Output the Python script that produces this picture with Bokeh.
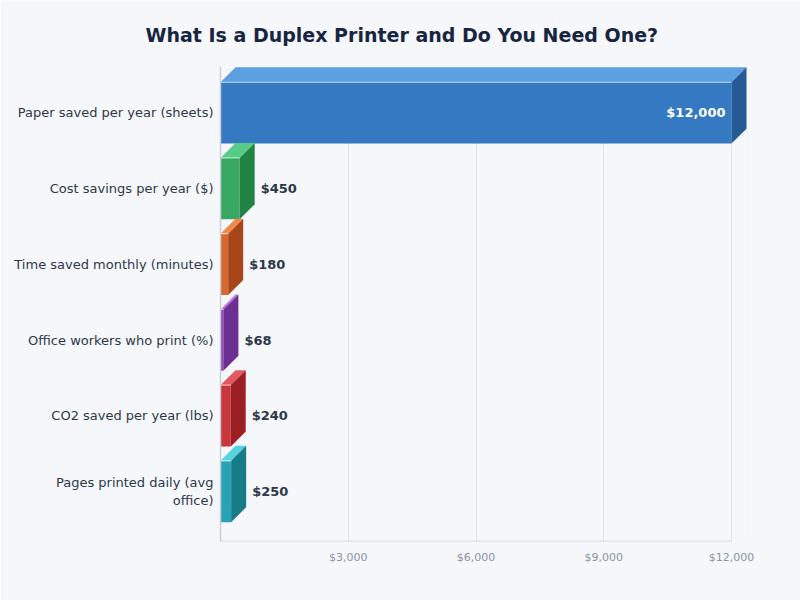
from bokeh.plotting import figure
from bokeh.models import Range1d, FixedTicker
from bokeh.embed import file_html
from bokeh.resources import INLINE
from bokeh.core.properties import value

# ---- data ----
categories = [
    "Paper saved per year (sheets)",
    "Cost savings per year ($)",
    "Time saved monthly (minutes)",
    "Office workers who print (%)",
    "CO2 saved per year (lbs)",
    "Pages printed daily (avg\noffice)",
]
values = [12000, 450, 180, 68, 240, 250]
value_labels = ["$12,000", "$450", "$180", "$68", "$240", "$250"]
front_colors = ["#3479c1", "#39a863", "#d8672e", "#9048b4", "#c8363c", "#26a3b5"]
top_colors = ["#5ca0e0", "#56cc88", "#f08a4c", "#b47ade", "#e25a60", "#55d3de"]
side_colors = ["#245b97", "#218343", "#a8461a", "#6e2f93", "#9c1f24", "#187c88"]
x_ticks = [3000, 6000, 9000, 12000]
x_tick_labels = ["$3,000", "$6,000", "$9,000", "$12,000"]

# ---- layout ----
W, H = 800, 600
BL, BR, BT, BB = 220, 49, 65, 59
frame_w = W - BL - BR
frame_h = H - BT - BB
x_max = max(x_ticks)
px_per_x = 511.0 / x_max          # pixels per data unit on x
x_end = frame_w / px_per_x
px_per_y = 75.88
y_start = -0.66
y_end = y_start + frame_h / px_per_y

dx = 15 / px_per_x
dy = 15 / px_per_y
hh = 30.75 / px_per_y
gap = 6 / px_per_x

bg = "#f5f7fb"
p = figure(width=W, height=H, output_backend="svg", toolbar_location=None,
           x_range=Range1d(0, x_end), y_range=Range1d(y_start, y_end),
           min_border_left=BL, min_border_right=BR, min_border_top=BT,
           min_border_bottom=BB)
p.background_fill_color = bg
p.border_fill_color = bg
p.outline_line_color = None

p.title.text = "What Is a Duplex Printer and Do You Need One?"
p.title.text_font = "DejaVu Sans"
p.title.text_font_size = "19px"
p.title.text_font_style = "bold"
p.title.text_color = "#172541"
p.title.align = "left"
p.title.offset = -75
p.title.standoff = 42

n = len(categories)
ys = [n - 1 - i for i in range(n)]

front_xs, front_ys, top_xs, top_ys, side_xs, side_ys = [], [], [], [], [], []
for v, c in zip(values, ys):
    front_xs.append([0, v, v, 0])
    front_ys.append([c - hh, c - hh, c + hh, c + hh])
    top_xs.append([0, dx, v + dx, v])
    top_ys.append([c + hh, c + hh + dy, c + hh + dy, c + hh])
    side_xs.append([v, v + dx, v + dx, v])
    side_ys.append([c - hh, c - hh + dy, c + hh + dy, c + hh])

p.xgrid.ticker = FixedTicker(ticks=x_ticks)
p.xgrid.grid_line_color = "#e1e5eb"
p.ygrid.grid_line_color = None

p.patches(xs=front_xs, ys=front_ys, fill_color=front_colors, line_color=None)
p.patches(xs=top_xs, ys=top_ys, fill_color=top_colors, line_color=None)
p.patches(xs=side_xs, ys=side_ys, fill_color=side_colors, line_color=None)
# highlight on the front top edge
p.segment(x0=[0] * n, y0=[c + hh for c in ys], x1=values, y1=[c + hh for c in ys],
          line_color="white", line_alpha=0.6, line_width=1.2)

# value labels
out_x, out_y, out_t = [], [], []
in_x, in_y, in_t = [], [], []
for v, c, t in zip(values, ys, value_labels):
    if v > 0.5 * max(values):
        in_x.append(v - 6 / px_per_x); in_y.append(c); in_t.append(t)
    else:
        out_x.append(v + dx + gap); out_y.append(c); out_t.append(t)
p.text(x=out_x, y=out_y, text=out_t, text_font=value("DejaVu Sans"),
       text_font_size="13px", text_font_style="bold", text_color="#2d3748",
       text_align="left", text_baseline="middle")
p.text(x=in_x, y=in_y, text=in_t, text_font=value("DejaVu Sans"),
       text_font_size="13px", text_font_style="bold", text_color="white",
       text_align="right", text_baseline="middle")

# custom bottom axis line ending at last tick
p.segment(x0=[0], y0=[y_start], x1=[x_max], y1=[y_start], line_color="#c9ced6", line_width=1.5)

# axes
p.xaxis.ticker = FixedTicker(ticks=x_ticks)
p.xaxis.major_label_overrides = {t: l for t, l in zip(x_ticks, x_tick_labels)}
p.xaxis.axis_line_color = None
p.xaxis.major_tick_line_color = None
p.xaxis.major_tick_out = 0
p.xaxis.minor_tick_line_color = None
p.xaxis.minor_tick_out = 0
p.xaxis.major_label_text_font = "DejaVu Sans"
p.xaxis.major_label_text_font_size = "11px"
p.xaxis.major_label_text_color = "#8a94a6"
p.xaxis.major_label_standoff = 9

p.yaxis.ticker = FixedTicker(ticks=ys)
p.yaxis.major_label_overrides = {c: cat for c, cat in zip(ys, categories)}
p.yaxis.axis_line_color = "#c9ced6"
p.yaxis.axis_line_width = 1.5
p.yaxis.major_tick_line_color = None
p.yaxis.major_tick_out = 0
p.yaxis.minor_tick_line_color = None
p.yaxis.minor_tick_out = 0
p.yaxis.major_label_text_font = "DejaVu Sans"
p.yaxis.major_label_text_font_size = "13px"
p.yaxis.major_label_text_color = "#2d3748"
p.yaxis.major_label_standoff = 7

open("out.html", "w").write(file_html(p, INLINE))
